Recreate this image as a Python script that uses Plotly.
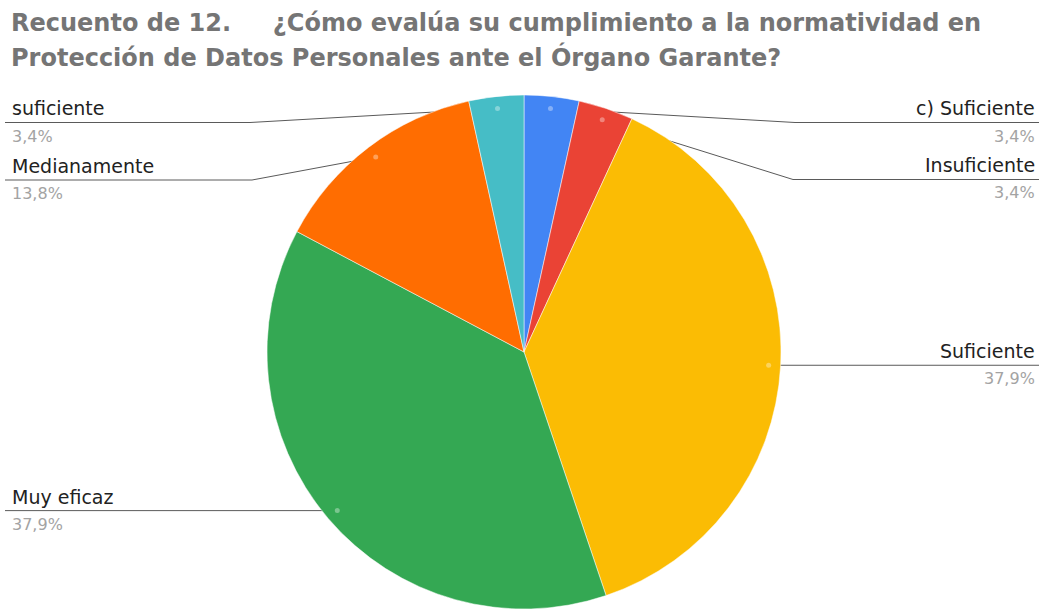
import math
import plotly.graph_objects as go

# Survey answers, clockwise from 12 o'clock
labels = ["c) Suficiente", "Insuficiente", "Suficiente", "Muy eficaz", "Medianamente", "suficiente"]
counts = [1, 1, 11, 11, 4, 1]
colors = ["#4285F4", "#EA4335", "#FBBC04", "#34A853", "#FF6D01", "#46BDC6"]

title_lines = [
    "Recuento de 12.\u00a0\u00a0\u00a0\u00a0\u00a0¿Cómo evalúa su cumplimiento a la normatividad en",
    "Protección de Datos Personales ante el Órgano Garante?",
]

W, H = 1043, 611
CX, CY, R = 524, 352, 257      # pie centre and radius in pixels
R_DOT = 245                    # radius where leader lines start
FONT = "DejaVu Sans"

# label side, y of the horizontal rule, x of the elbow (None -> rule leaves the dot level)
placement = {
    "c) Suficiente": ("right", 122.5, 795),
    "Insuficiente": ("right", 179.5, 793),
    "Suficiente": ("right", None, None),
    "Muy eficaz": ("left", None, None),
    "Medianamente": ("left", 180, 252),
    "suficiente": ("left", 122.5, 250),
}


def px(x):
    return x / W


def py(y):
    return 1 - y / H


def lighten(hex_color, f):
    r, g, b = (int(hex_color[i:i + 2], 16) for i in (1, 3, 5))
    return "#%02x%02x%02x" % tuple(int(c + (255 - c) * f) for c in (r, g, b))


total = sum(counts)

fig = go.Figure(
    go.Pie(
        labels=labels,
        values=counts,
        sort=False,
        direction="clockwise",
        rotation=0,
        marker=dict(colors=colors, line=dict(color="white", width=0.5)),
        textinfo="none",
        hoverinfo="skip",
        showlegend=False,
        domain=dict(x=[px(CX - R), px(CX + R)], y=[py(CY + R), py(CY - R)]),
    )
)

shapes = []
annotations = []

cum = 0
for lab, val, col in zip(labels, counts, colors):
    mid = (cum + val / 2) / total * 2 * math.pi
    cum += val
    dx = CX + R_DOT * math.sin(mid)
    dy = CY - R_DOT * math.cos(mid)
    side, ly, ex = placement[lab]
    if ly is None:
        ly = dy
        ex = dx
    end_x = 5 if side == "left" else 1039
    path = f"M {px(dx)} {py(dy)} L {px(ex)} {py(ly)} L {px(end_x)} {py(ly)}"
    shapes.append(dict(type="path", path=path, xref="paper", yref="paper",
                       line=dict(color="#5a5a5a", width=1), layer="below"))
    # small marker where the leader line meets the slice
    shapes.append(dict(type="circle", xref="paper", yref="paper",
                       x0=px(dx - 2.5), x1=px(dx + 2.5), y0=py(dy + 2.5), y1=py(dy - 2.5),
                       fillcolor=lighten(col, 0.35), line=dict(width=0), layer="above"))

    pct = f"{100 * val / total:.1f}%".replace(".", ",")
    tx = 10 if side == "left" else 1037
    xa = "left" if side == "left" else "right"
    annotations.append(dict(text=lab, x=px(tx), y=py(ly - 1), xref="paper", yref="paper",
                            xanchor=xa, yanchor="bottom", showarrow=False,
                            font=dict(family=FONT, size=19, color="#222222")))
    annotations.append(dict(text=pct, x=px(tx), y=py(ly + 2), xref="paper", yref="paper",
                            xanchor=xa, yanchor="top", showarrow=False,
                            font=dict(family=FONT, size=16, color="#a3a3a3")))

# two-line chart title
for line, top in zip(title_lines, (7, 40)):
    annotations.append(dict(text=line, x=px(9), y=py(top), xref="paper", yref="paper",
                            xanchor="left", yanchor="top", align="left", showarrow=False,
                            font=dict(family=FONT, size=24, color="#757575", weight="bold")))

fig.update_layout(
    width=W, height=H,
    margin=dict(l=0, r=0, t=0, b=0),
    paper_bgcolor="white",
    plot_bgcolor="white",
    shapes=shapes,
    annotations=annotations,
)

fig.write_html("out.html")
